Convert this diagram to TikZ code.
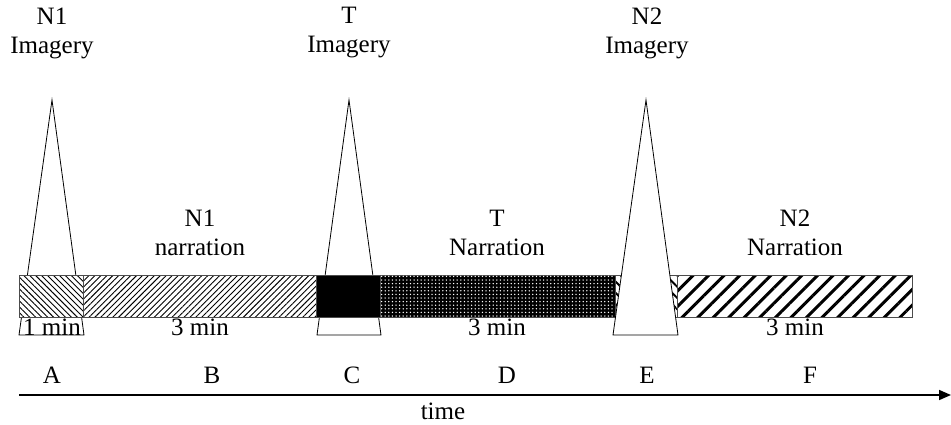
\documentclass[tikz,border=0pt]{standalone}
\usepackage{fontspec}
\setmainfont{Liberation Serif}
\usetikzlibrary{patterns,patterns.meta,arrows.meta}
\begin{document}
\begin{tikzpicture}[x=1pt,y=-1pt,
  lbl/.style={font=\fontsize{25}{29}\selectfont, align=center, inner sep=0pt},
  seg/.style={draw=black!70, line width=0.6pt},
  spike/.style={draw=black, line width=0.8pt, fill=white}]
\useasboundingbox (0,0) rectangle (951,424);
% triangles behind the bar
\draw[spike] (19,335) -- (52,100) -- (84,335) -- cycle;
\draw[spike] (317,335) -- (349,100) -- (381,335) -- cycle;
% bar segments
\fill[white] (19,275) rectangle (912,317);
\path[seg, pattern={Lines[angle=-45,distance=4.2pt,line width=0.9pt]}] (19,275) rectangle (83,317);
\path[seg, pattern={Lines[angle=45,distance=4.2pt,line width=0.9pt]}] (83,275) rectangle (316,317);
\path[seg, fill=black] (316,275) rectangle (380,317);
\path[seg, fill=black] (380,275) rectangle (615,317);
\path[pattern={Dots[radius=0.75pt,distance=3.6pt]}, pattern color=white] (380,275) rectangle (615,317);
\path[seg, pattern={Lines[angle=-45,distance=8pt,line width=2pt]}] (615,275) rectangle (677,317);
\path[seg, pattern={Lines[angle=45,distance=11pt,line width=3pt]}] (677,275) rectangle (912,317);
% front triangle
\draw[spike] (613,335) -- (646,100) -- (678,335) -- cycle;
% texts
\node[lbl] (t1) at (52,33) {N1\\Imagery};
\node[lbl] (t2) at (349,33) {T\\Imagery};
\node[lbl] (t3) at (647,33) {N2\\Imagery};
\node[lbl] (n1) at (200,233) {N1\\narration};
\node[lbl] (n2) at (497,233) {T\\Narration};
\node[lbl] (n3) at (795,233) {N2\\Narration};
\node[lbl] (m1) at (52,327) {1 min};
\node[lbl] (m2) at (200,327) {3 min};
\node[lbl] (m3) at (497,327) {3 min};
\node[lbl] (m4) at (795,327) {3 min};
\node[lbl] (la) at (52,375) {A};
\node[lbl] (lb) at (212,375) {B};
\node[lbl] (lc) at (352,375) {C};
\node[lbl] (ld) at (507,375) {D};
\node[lbl] (le) at (647,375) {E};
\node[lbl] (lf) at (810,375) {F};
\node[lbl] (time) at (443,411) {time};
% axis
\coordinate (ax0) at (19,395);
\coordinate (ax1) at (951,395);
\draw[line width=1.6pt, -{Triangle[length=12pt,width=10pt]}] (ax0) -- (ax1);
\end{tikzpicture}
\end{document}
